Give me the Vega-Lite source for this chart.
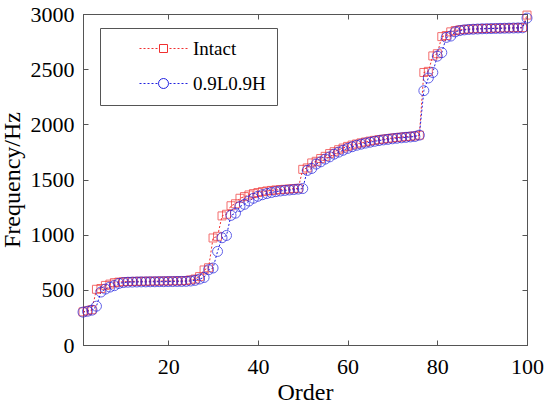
{
  "$schema": "https://vega.github.io/schema/vega-lite/v6.json",
  "width": 444,
  "height": 331,
  "autosize": {"type": "none"},
  "padding": {"left": 83, "top": 14, "right": 23, "bottom": 62},
  "background": "white",
  "data": {
    "values": [
      {"s": "Intact", "x": 1, "y": 300}, {"s": "Intact", "x": 2, "y": 310}, {"s": "Intact", "x": 3, "y": 320}, {"s": "Intact", "x": 4, "y": 505}, {"s": "Intact", "x": 5, "y": 512},
      {"s": "Intact", "x": 6, "y": 540}, {"s": "Intact", "x": 7, "y": 552}, {"s": "Intact", "x": 8, "y": 565}, {"s": "Intact", "x": 9, "y": 570}, {"s": "Intact", "x": 10, "y": 573},
      {"s": "Intact", "x": 11, "y": 575}, {"s": "Intact", "x": 12, "y": 576}, {"s": "Intact", "x": 13, "y": 577}, {"s": "Intact", "x": 14, "y": 577}, {"s": "Intact", "x": 15, "y": 578},
      {"s": "Intact", "x": 16, "y": 578}, {"s": "Intact", "x": 17, "y": 579}, {"s": "Intact", "x": 18, "y": 579}, {"s": "Intact", "x": 19, "y": 580}, {"s": "Intact", "x": 20, "y": 580},
      {"s": "Intact", "x": 21, "y": 581}, {"s": "Intact", "x": 22, "y": 581}, {"s": "Intact", "x": 23, "y": 582}, {"s": "Intact", "x": 24, "y": 584}, {"s": "Intact", "x": 25, "y": 590},
      {"s": "Intact", "x": 26, "y": 598}, {"s": "Intact", "x": 27, "y": 620}, {"s": "Intact", "x": 28, "y": 680}, {"s": "Intact", "x": 29, "y": 700}, {"s": "Intact", "x": 30, "y": 970},
      {"s": "Intact", "x": 31, "y": 985}, {"s": "Intact", "x": 32, "y": 1170}, {"s": "Intact", "x": 33, "y": 1185}, {"s": "Intact", "x": 34, "y": 1262}, {"s": "Intact", "x": 35, "y": 1280},
      {"s": "Intact", "x": 36, "y": 1330}, {"s": "Intact", "x": 37, "y": 1345}, {"s": "Intact", "x": 38, "y": 1360}, {"s": "Intact", "x": 39, "y": 1372}, {"s": "Intact", "x": 40, "y": 1382},
      {"s": "Intact", "x": 41, "y": 1390}, {"s": "Intact", "x": 42, "y": 1396}, {"s": "Intact", "x": 43, "y": 1401}, {"s": "Intact", "x": 44, "y": 1405}, {"s": "Intact", "x": 45, "y": 1408},
      {"s": "Intact", "x": 46, "y": 1411}, {"s": "Intact", "x": 47, "y": 1414}, {"s": "Intact", "x": 48, "y": 1417}, {"s": "Intact", "x": 49, "y": 1420}, {"s": "Intact", "x": 50, "y": 1592},
      {"s": "Intact", "x": 51, "y": 1605}, {"s": "Intact", "x": 52, "y": 1650}, {"s": "Intact", "x": 53, "y": 1665}, {"s": "Intact", "x": 54, "y": 1690}, {"s": "Intact", "x": 55, "y": 1710},
      {"s": "Intact", "x": 56, "y": 1735}, {"s": "Intact", "x": 57, "y": 1752}, {"s": "Intact", "x": 58, "y": 1770}, {"s": "Intact", "x": 59, "y": 1785}, {"s": "Intact", "x": 60, "y": 1800},
      {"s": "Intact", "x": 61, "y": 1812}, {"s": "Intact", "x": 62, "y": 1822}, {"s": "Intact", "x": 63, "y": 1832}, {"s": "Intact", "x": 64, "y": 1840}, {"s": "Intact", "x": 65, "y": 1848},
      {"s": "Intact", "x": 66, "y": 1855}, {"s": "Intact", "x": 67, "y": 1861}, {"s": "Intact", "x": 68, "y": 1866}, {"s": "Intact", "x": 69, "y": 1871}, {"s": "Intact", "x": 70, "y": 1876},
      {"s": "Intact", "x": 71, "y": 1880}, {"s": "Intact", "x": 72, "y": 1884}, {"s": "Intact", "x": 73, "y": 1888}, {"s": "Intact", "x": 74, "y": 1891}, {"s": "Intact", "x": 75, "y": 1895},
      {"s": "Intact", "x": 76, "y": 1902}, {"s": "Intact", "x": 77, "y": 2470}, {"s": "Intact", "x": 78, "y": 2480}, {"s": "Intact", "x": 79, "y": 2620}, {"s": "Intact", "x": 80, "y": 2640},
      {"s": "Intact", "x": 81, "y": 2795}, {"s": "Intact", "x": 82, "y": 2805}, {"s": "Intact", "x": 83, "y": 2838}, {"s": "Intact", "x": 84, "y": 2850}, {"s": "Intact", "x": 85, "y": 2856},
      {"s": "Intact", "x": 86, "y": 2860}, {"s": "Intact", "x": 87, "y": 2863}, {"s": "Intact", "x": 88, "y": 2865}, {"s": "Intact", "x": 89, "y": 2867}, {"s": "Intact", "x": 90, "y": 2868},
      {"s": "Intact", "x": 91, "y": 2869}, {"s": "Intact", "x": 92, "y": 2870}, {"s": "Intact", "x": 93, "y": 2871}, {"s": "Intact", "x": 94, "y": 2872}, {"s": "Intact", "x": 95, "y": 2873},
      {"s": "Intact", "x": 96, "y": 2874}, {"s": "Intact", "x": 97, "y": 2875}, {"s": "Intact", "x": 98, "y": 2876}, {"s": "Intact", "x": 99, "y": 2877}, {"s": "Intact", "x": 100, "y": 2990},
      {"s": "0.9L0.9H", "x": 1, "y": 298}, {"s": "0.9L0.9H", "x": 2, "y": 306}, {"s": "0.9L0.9H", "x": 3, "y": 316}, {"s": "0.9L0.9H", "x": 4, "y": 352}, {"s": "0.9L0.9H", "x": 5, "y": 480},
      {"s": "0.9L0.9H", "x": 6, "y": 507}, {"s": "0.9L0.9H", "x": 7, "y": 525}, {"s": "0.9L0.9H", "x": 8, "y": 538}, {"s": "0.9L0.9H", "x": 9, "y": 558}, {"s": "0.9L0.9H", "x": 10, "y": 566},
      {"s": "0.9L0.9H", "x": 11, "y": 569}, {"s": "0.9L0.9H", "x": 12, "y": 570}, {"s": "0.9L0.9H", "x": 13, "y": 571}, {"s": "0.9L0.9H", "x": 14, "y": 572}, {"s": "0.9L0.9H", "x": 15, "y": 572},
      {"s": "0.9L0.9H", "x": 16, "y": 573}, {"s": "0.9L0.9H", "x": 17, "y": 573}, {"s": "0.9L0.9H", "x": 18, "y": 574}, {"s": "0.9L0.9H", "x": 19, "y": 574}, {"s": "0.9L0.9H", "x": 20, "y": 575},
      {"s": "0.9L0.9H", "x": 21, "y": 575}, {"s": "0.9L0.9H", "x": 22, "y": 576}, {"s": "0.9L0.9H", "x": 23, "y": 576}, {"s": "0.9L0.9H", "x": 24, "y": 577}, {"s": "0.9L0.9H", "x": 25, "y": 580},
      {"s": "0.9L0.9H", "x": 26, "y": 586}, {"s": "0.9L0.9H", "x": 27, "y": 598}, {"s": "0.9L0.9H", "x": 28, "y": 612}, {"s": "0.9L0.9H", "x": 29, "y": 682}, {"s": "0.9L0.9H", "x": 30, "y": 698},
      {"s": "0.9L0.9H", "x": 31, "y": 848}, {"s": "0.9L0.9H", "x": 32, "y": 972}, {"s": "0.9L0.9H", "x": 33, "y": 993}, {"s": "0.9L0.9H", "x": 34, "y": 1175}, {"s": "0.9L0.9H", "x": 35, "y": 1195},
      {"s": "0.9L0.9H", "x": 36, "y": 1255}, {"s": "0.9L0.9H", "x": 37, "y": 1275}, {"s": "0.9L0.9H", "x": 38, "y": 1305}, {"s": "0.9L0.9H", "x": 39, "y": 1330}, {"s": "0.9L0.9H", "x": 40, "y": 1348},
      {"s": "0.9L0.9H", "x": 41, "y": 1362}, {"s": "0.9L0.9H", "x": 42, "y": 1373}, {"s": "0.9L0.9H", "x": 43, "y": 1382}, {"s": "0.9L0.9H", "x": 44, "y": 1390}, {"s": "0.9L0.9H", "x": 45, "y": 1396},
      {"s": "0.9L0.9H", "x": 46, "y": 1401}, {"s": "0.9L0.9H", "x": 47, "y": 1405}, {"s": "0.9L0.9H", "x": 48, "y": 1409}, {"s": "0.9L0.9H", "x": 49, "y": 1413}, {"s": "0.9L0.9H", "x": 50, "y": 1418},
      {"s": "0.9L0.9H", "x": 51, "y": 1582}, {"s": "0.9L0.9H", "x": 52, "y": 1600}, {"s": "0.9L0.9H", "x": 53, "y": 1640}, {"s": "0.9L0.9H", "x": 54, "y": 1660}, {"s": "0.9L0.9H", "x": 55, "y": 1685},
      {"s": "0.9L0.9H", "x": 56, "y": 1705}, {"s": "0.9L0.9H", "x": 57, "y": 1730}, {"s": "0.9L0.9H", "x": 58, "y": 1748}, {"s": "0.9L0.9H", "x": 59, "y": 1765}, {"s": "0.9L0.9H", "x": 60, "y": 1782},
      {"s": "0.9L0.9H", "x": 61, "y": 1797}, {"s": "0.9L0.9H", "x": 62, "y": 1810}, {"s": "0.9L0.9H", "x": 63, "y": 1820}, {"s": "0.9L0.9H", "x": 64, "y": 1830}, {"s": "0.9L0.9H", "x": 65, "y": 1838},
      {"s": "0.9L0.9H", "x": 66, "y": 1846}, {"s": "0.9L0.9H", "x": 67, "y": 1853}, {"s": "0.9L0.9H", "x": 68, "y": 1859}, {"s": "0.9L0.9H", "x": 69, "y": 1864}, {"s": "0.9L0.9H", "x": 70, "y": 1869},
      {"s": "0.9L0.9H", "x": 71, "y": 1874}, {"s": "0.9L0.9H", "x": 72, "y": 1878}, {"s": "0.9L0.9H", "x": 73, "y": 1882}, {"s": "0.9L0.9H", "x": 74, "y": 1886}, {"s": "0.9L0.9H", "x": 75, "y": 1890},
      {"s": "0.9L0.9H", "x": 76, "y": 1902}, {"s": "0.9L0.9H", "x": 77, "y": 2305}, {"s": "0.9L0.9H", "x": 78, "y": 2420}, {"s": "0.9L0.9H", "x": 79, "y": 2470}, {"s": "0.9L0.9H", "x": 80, "y": 2618},
      {"s": "0.9L0.9H", "x": 81, "y": 2650}, {"s": "0.9L0.9H", "x": 82, "y": 2788}, {"s": "0.9L0.9H", "x": 83, "y": 2800}, {"s": "0.9L0.9H", "x": 84, "y": 2838}, {"s": "0.9L0.9H", "x": 85, "y": 2850},
      {"s": "0.9L0.9H", "x": 86, "y": 2856}, {"s": "0.9L0.9H", "x": 87, "y": 2860}, {"s": "0.9L0.9H", "x": 88, "y": 2862}, {"s": "0.9L0.9H", "x": 89, "y": 2864}, {"s": "0.9L0.9H", "x": 90, "y": 2866},
      {"s": "0.9L0.9H", "x": 91, "y": 2867}, {"s": "0.9L0.9H", "x": 92, "y": 2868}, {"s": "0.9L0.9H", "x": 93, "y": 2869}, {"s": "0.9L0.9H", "x": 94, "y": 2870}, {"s": "0.9L0.9H", "x": 95, "y": 2871},
      {"s": "0.9L0.9H", "x": 96, "y": 2872}, {"s": "0.9L0.9H", "x": 97, "y": 2873}, {"s": "0.9L0.9H", "x": 98, "y": 2874}, {"s": "0.9L0.9H", "x": 99, "y": 2875}, {"s": "0.9L0.9H", "x": 100, "y": 2963}
    ]
  },
  "layer": [
    {
      "mark": {"type": "line", "strokeDash": [2, 2], "strokeWidth": 1},
      "encoding": {
        "x": {
          "field": "x", "type": "quantitative",
          "scale": {"domain": [1, 100], "nice": false, "zero": false},
          "axis": {"orient": "bottom", "title": "Order", "values": [20, 40, 60, 80, 100], "labelPadding": 16, "labelFlush": false, "labelFont": "Liberation Serif", "format": "d", "titlePadding": 3}
        },
        "y": {
          "field": "y", "type": "quantitative",
          "scale": {"domain": [0, 3000], "nice": false},
          "axis": {"orient": "left", "title": "Frequency/Hz", "values": [0, 500, 1000, 1500, 2000, 2500, 3000], "labelPadding": 14, "labelFlush": false, "labelFont": "Liberation Serif", "format": "d", "titlePadding": 6}
        },
        "color": {
          "field": "s", "type": "nominal",
          "scale": {"domain": ["Intact", "0.9L0.9H"], "range": ["#f03030", "#2020e0"]},
          "legend": {
            "title": null,
            "orient": "none",
            "legendX": 17,
            "legendY": 14,
            "symbolSize": 64,
            "symbolOffset": 43,
            "labelOffset": 20,
            "encode": {
              "symbols": {
                "update": {
                  "shape": {"signal": "datum.value == 'Intact' ? 'M-6,0H-5.5M-5,0H-4.5M-4,0H-3.5M-3,0H-2.5M-2,0H-1.5M1.5,0H2M2.5,0H3M3.5,0H4M4.5,0H5M5.5,0H6M-1,-1H1V1H-1Z' : 'M-6,0H-5.5M-5,0H-4.5M-4,0H-3.5M-3,0H-2.5M-2,0H-1.5M1.5,0H2M2.5,0H3M3.5,0H4M4.5,0H5M5.5,0H6M-1.25,0A1.25,1.25,0,1,0,1.25,0A1.25,1.25,0,1,0,-1.25,0Z'"},
                  "stroke": {"scale": "color", "field": "value"},
                  "fill": {"value": "transparent"},
                  "strokeWidth": {"value": 1}
                }
              }
            }
          }
        }
      }
    },
    {
      "transform": [{"filter": "datum.s == 'Intact'"}],
      "mark": {"type": "point", "shape": "square", "filled": false, "size": 64, "strokeWidth": 1, "color": "#f03030"},
      "encoding": {
        "x": {"field": "x", "type": "quantitative", "axis": {"orient": "top", "labels": false, "title": null, "values": [20, 40, 60, 80, 100]}},
        "y": {"field": "y", "type": "quantitative", "axis": {"orient": "right", "labels": false, "title": null, "values": [0, 500, 1000, 1500, 2000, 2500, 3000]}}
      }
    },
    {
      "transform": [{"filter": "datum.s == '0.9L0.9H'"}],
      "mark": {"type": "point", "shape": "circle", "filled": false, "size": 100, "strokeWidth": 1, "color": "#2020e0"},
      "encoding": {
        "x": {"field": "x", "type": "quantitative", "axis": null},
        "y": {"field": "y", "type": "quantitative", "axis": null}
      }
    }
  ],
  "config": {
    "font": "Liberation Serif",
    "view": {"stroke": "#555555", "strokeWidth": 1},
    "axis": {
      "grid": false,
      "domainColor": "#555555",
      "tickColor": "#555555",
      "tickSize": -5,
      "labelColor": "#000000",
      "labelFont": "Liberation Serif",
      "labelFontSize": 22,
      "titleFont": "Liberation Serif",
      "titleFontSize": 24,
      "titleFontWeight": "normal",
      "titleColor": "#000000"
    },
    "legend": {
      "strokeColor": "#555555",
      "fillColor": "white",
      "padding": 11,
      "rowPadding": 15,
      "labelFont": "Liberation Serif",
      "labelFontSize": 19,
      "labelColor": "#000000"
    }
  }
}
